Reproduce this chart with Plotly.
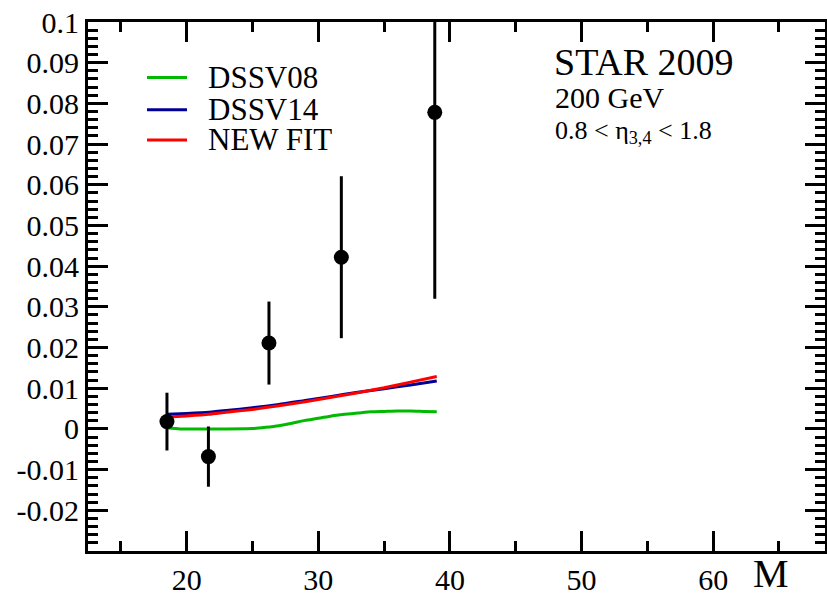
import plotly.graph_objects as go

# ---- data ----
pt_x = [18.5, 21.65, 26.25, 31.75, 38.85]
pt_y = [0.0018, -0.0068, 0.0211, 0.0422, 0.0778]
pt_err = [0.0071, 0.0074, 0.0102, 0.0199, 0.0458]

dssv08_x = [18.5, 19.5, 21.0, 23.0, 25.0, 26.0, 27.0, 28.0, 29.0, 30.0, 31.0, 32.0, 33.0, 34.0, 35.0, 36.0, 37.0, 38.0, 39.0]
dssv08_y = [0.0003, 0.0, 0.0, 0.0, 0.0001, 0.0004, 0.0008, 0.0014, 0.0021, 0.0026, 0.0032, 0.0036, 0.0039, 0.0042, 0.0043, 0.0044, 0.0044, 0.0043, 0.0042]

dssv14_x = [18.5, 20.0, 21.7, 23.0, 25.0, 27.0, 29.0, 31.0, 33.0, 35.0, 37.0, 39.0]
dssv14_y = [0.0036, 0.0038, 0.0041, 0.0045, 0.0052, 0.0060, 0.0070, 0.0080, 0.0090, 0.0099, 0.0108, 0.0118]

newfit_x = [18.5, 20.0, 21.7, 23.0, 25.0, 27.0, 29.0, 31.0, 33.0, 35.0, 37.0, 39.0]
newfit_y = [0.0029, 0.0032, 0.0036, 0.0041, 0.0048, 0.0057, 0.0067, 0.0078, 0.0089, 0.0101, 0.0115, 0.0129]

y_tickvals = [-0.02, -0.01, 0.0, 0.01, 0.02, 0.03, 0.04, 0.05, 0.06, 0.07, 0.08, 0.09, 0.1]
y_ticktext = ["-0.02", "-0.01", "0", "0.01", "0.02", "0.03", "0.04", "0.05", "0.06", "0.07", "0.08", "0.09", "0.1"]
x_tickvals = [20, 30, 40, 50, 60]
x_ticktext = ["20", "30", "40", "50", "60"]

legend_names = ["DSSV08", "DSSV14", "NEW FIT"]
colors = ["rgb(0,185,0)", "rgb(0,0,150)", "rgb(255,0,0)"]

FONT = "Liberation Serif"

fig = go.Figure()
for xs, ys, name, c in [(dssv08_x, dssv08_y, legend_names[0], colors[0]),
                        (dssv14_x, dssv14_y, legend_names[1], colors[1]),
                        (newfit_x, newfit_y, legend_names[2], colors[2])]:
    fig.add_trace(go.Scatter(x=xs, y=ys, mode="lines", name=name,
                             line=dict(color=c, width=3, shape="spline", smoothing=0.6),
                             showlegend=False))

fig.add_trace(go.Scatter(x=pt_x, y=pt_y, mode="markers", name="STAR 2009",
                         marker=dict(color="black", size=15),
                         error_y=dict(type="data", array=pt_err, color="black", thickness=3, width=0),
                         showlegend=False))

# legend (manual, tight spacing like the original)
leg_y = [0.895, 0.834, 0.777]
for i, (name, c) in enumerate(zip(legend_names, colors)):
    fig.add_shape(type="line", xref="paper", yref="paper",
                  x0=(147 - 88) / 737, x1=(187 - 88) / 737, y0=leg_y[i], y1=leg_y[i],
                  line=dict(color=c, width=3))
    fig.add_annotation(x=(206 - 88) / 737, y=leg_y[i], xref="paper", yref="paper",
                       text=name, showarrow=False, xanchor="left", yanchor="middle",
                       font=dict(family=FONT, size=31, color="black"))

fig.add_annotation(x=(552 - 88) / 737, y=(551 - 62) / 529, xref="paper", yref="paper",
                   text="STAR 2009", showarrow=False, xanchor="left", yanchor="middle",
                   font=dict(family=FONT, size=38, color="black"))
fig.add_annotation(x=(553 - 88) / 737, y=(551 - 97) / 529, xref="paper", yref="paper",
                   text="200 GeV", showarrow=False, xanchor="left", yanchor="middle",
                   font=dict(family=FONT, size=30, color="black"))
fig.add_annotation(x=(553 - 88) / 737, y=(551 - 132) / 529, xref="paper", yref="paper",
                   text="0.8 < η<sub>3,4</sub> < 1.8", showarrow=False, xanchor="left", yanchor="middle",
                   font=dict(family=FONT, size=26, color="black"))
fig.add_annotation(x=(771 - 88) / 737, y=(551 - 598) / 529, xref="paper", yref="paper",
                   text="M", showarrow=False, xanchor="center", yanchor="bottom",
                   font=dict(family=FONT, size=40, color="black"))

axis_common = dict(showline=True, linewidth=3, linecolor="black", mirror="allticks",
                   ticks="inside", tickwidth=3, tickcolor="black", ticklen=20,
                   showgrid=False, zeroline=False, automargin=False,
                   tickfont=dict(family=FONT, size=30, color="black"))

fig.update_xaxes(range=[12.5, 68.5], tickmode="array", tickvals=x_tickvals, ticktext=x_ticktext,
                 minor=dict(ticks="inside", ticklen=10, tickwidth=3, tickcolor="black", dtick=5, tick0=0, showgrid=False),
                 **axis_common)
fig.update_yaxes(range=[-0.03, 0.1], tickmode="array", tickvals=y_tickvals, ticktext=y_ticktext,
                 minor=dict(ticks="inside", ticklen=10, tickwidth=2.5, tickcolor="black", dtick=0.002, tick0=0, showgrid=False),
                 **axis_common)

fig.update_layout(width=827, height=595, autosize=False,
                  margin=dict(l=88, r=2, t=22, b=44),
                  font=dict(family=FONT, color="black"),
                  paper_bgcolor="white", plot_bgcolor="white",
                  showlegend=False)

fig.write_html("out.html")
